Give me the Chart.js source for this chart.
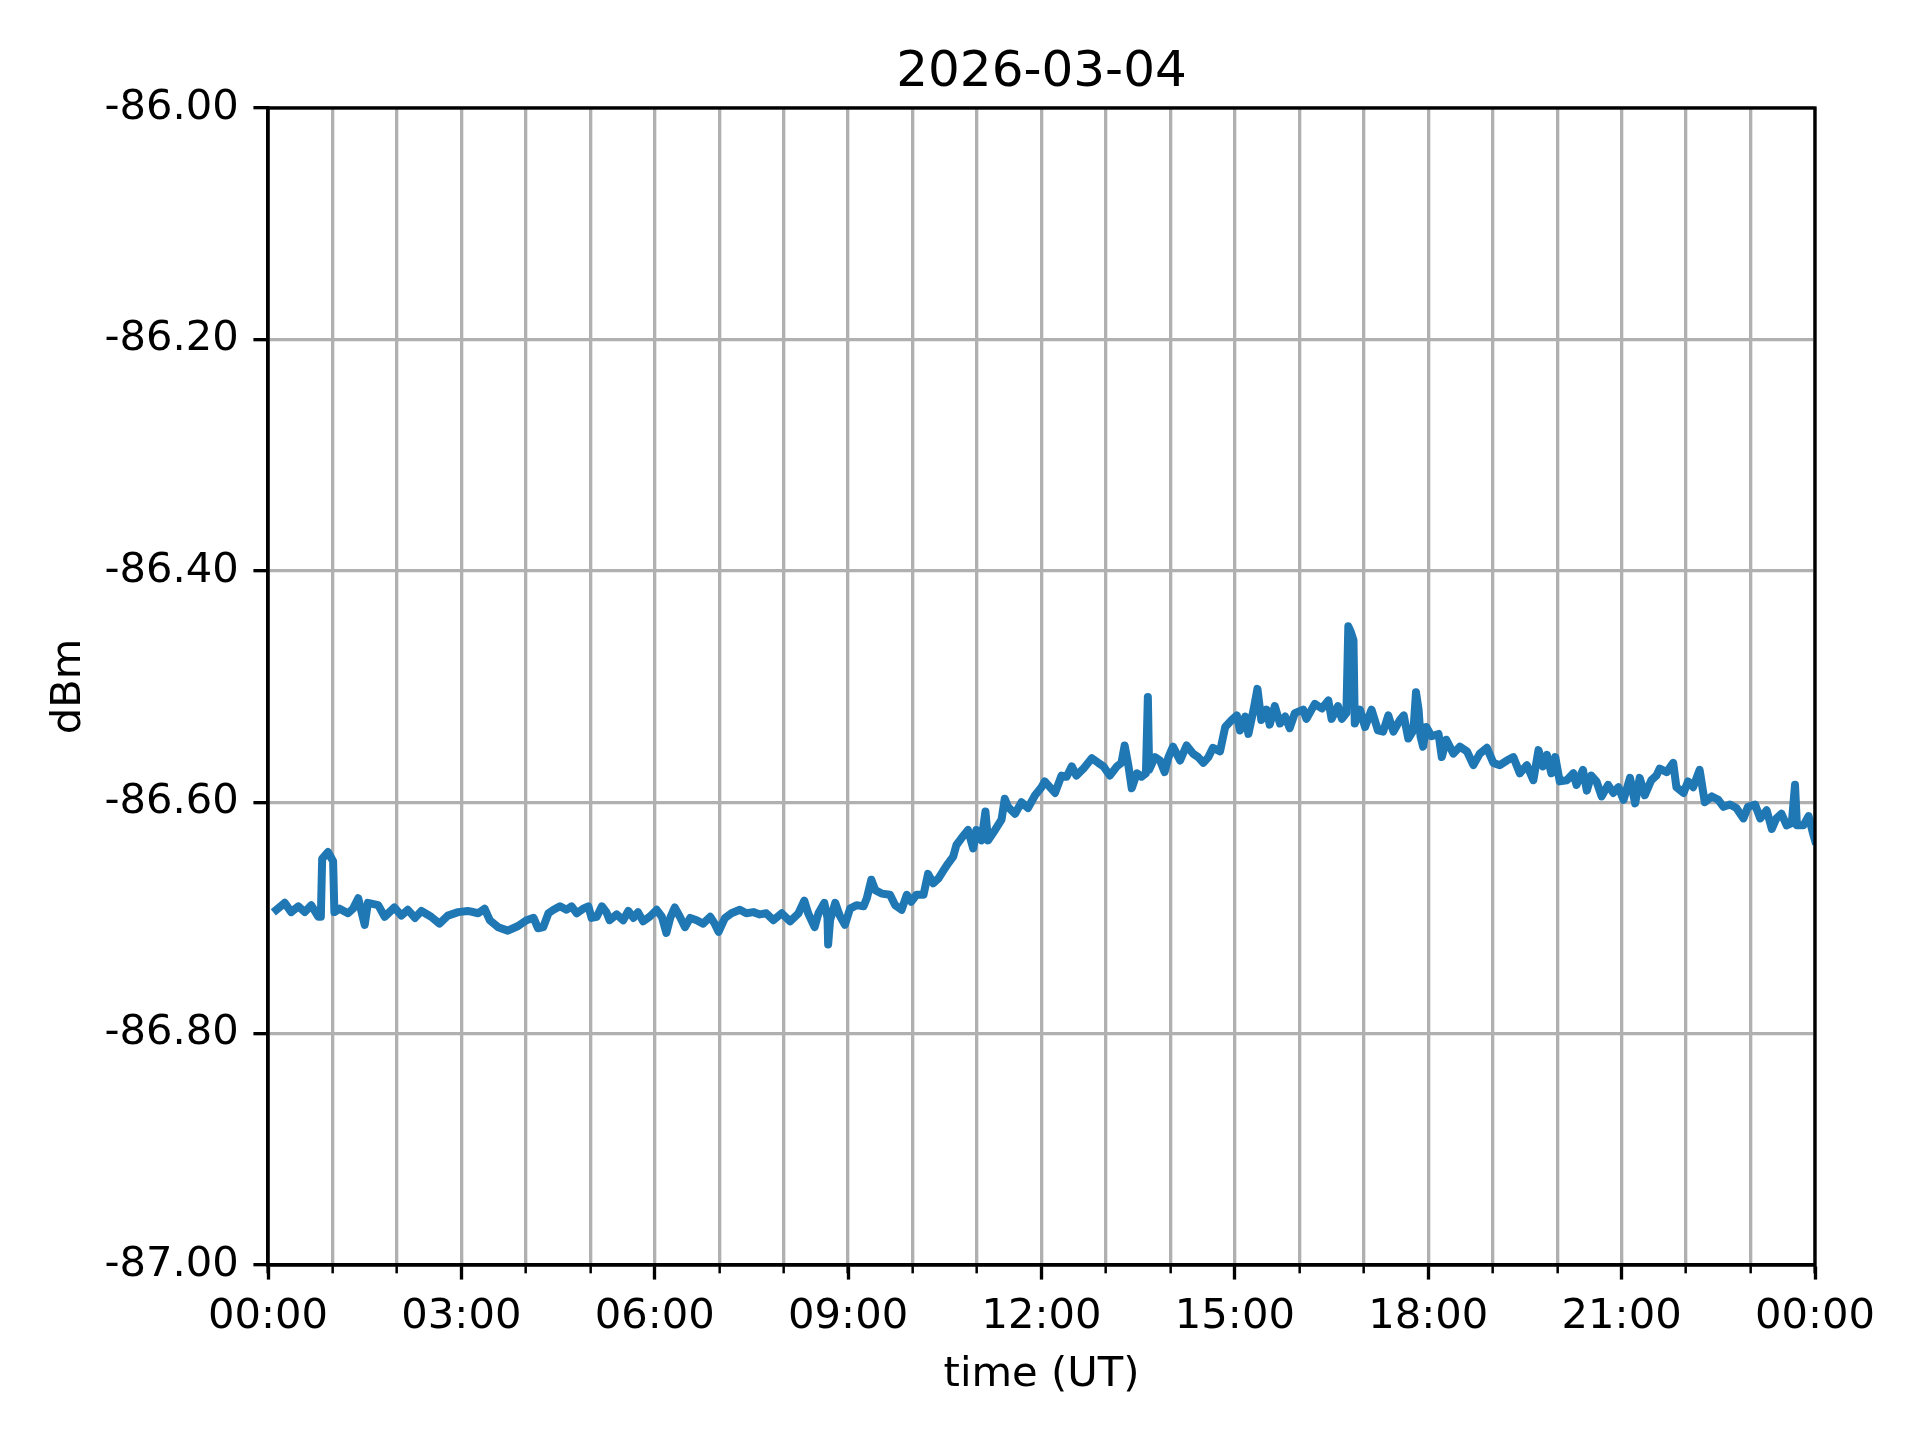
<!DOCTYPE html>
<html>
<head>
<meta charset="utf-8">
<title>2026-03-04</title>
<script src="https://cdn.jsdelivr.net/npm/chart.js"></script>
<style>
  html, body { margin: 0; padding: 0; background: #fff; }
  #wrap { width: 1920px; height: 1440px; }
</style>
</head>
<body>
<div id="wrap"><canvas id="levelChart" width="1920" height="1440"></canvas></div>
<script>
// values, time in hours UT
const chartTitle = "2026-03-04";
const timeHours = [
  0.13, 0.26, 0.36, 0.47, 0.57, 0.67, 0.78, 0.82, 0.84, 0.93, 1.01, 1.03, 1.11, 1.24, 1.32, 1.40, 1.50, 1.55, 1.71, 1.81,
  1.96, 2.07, 2.17, 2.28, 2.38, 2.53, 2.66, 2.79, 2.95, 3.10, 3.26, 3.36, 3.44, 3.57, 3.72, 3.88, 4.01, 4.12, 4.19, 4.27,
  4.35, 4.43, 4.53, 4.63, 4.71, 4.79, 4.89, 4.97, 5.02, 5.10, 5.18, 5.25, 5.30, 5.41, 5.51, 5.59, 5.67, 5.74, 5.82, 5.92,
  6.03, 6.11, 6.18, 6.24, 6.31, 6.39, 6.47, 6.55, 6.65, 6.75, 6.86, 6.93, 6.99, 7.09, 7.19, 7.32, 7.42, 7.53, 7.63, 7.73,
  7.84, 7.97, 8.10, 8.23, 8.32, 8.38, 8.48, 8.54, 8.63, 8.68, 8.69, 8.72, 8.80, 8.87, 8.95, 9.03, 9.13, 9.24, 9.29, 9.36,
  9.42, 9.52, 9.65, 9.73, 9.83, 9.91, 9.98, 10.06, 10.17, 10.24, 10.32, 10.40, 10.48, 10.55, 10.63, 10.68, 10.76, 10.86, 10.94, 10.99,
  11.07, 11.13, 11.17, 11.28, 11.38, 11.43, 11.48, 11.59, 11.69, 11.79, 11.90, 12.00, 12.05, 12.13, 12.21, 12.31, 12.39, 12.47, 12.54, 12.65,
  12.78, 12.88, 12.96, 13.06, 13.17, 13.24, 13.29, 13.35, 13.40, 13.48, 13.55, 13.62, 13.65, 13.67, 13.76, 13.84, 13.91, 13.97, 14.04, 14.15,
  14.25, 14.35, 14.43, 14.51, 14.59, 14.66, 14.77, 14.85, 14.95, 15.03, 15.08, 15.16, 15.21, 15.29, 15.35, 15.41, 15.49, 15.54, 15.62, 15.70,
  15.78, 15.85, 15.93, 16.06, 16.11, 16.24, 16.35, 16.45, 16.50, 16.60, 16.66, 16.73, 16.76, 16.80, 16.84, 16.86, 16.94, 17.02, 17.12, 17.22,
  17.30, 17.38, 17.46, 17.56, 17.62, 17.69, 17.77, 17.81, 17.85, 17.88, 17.92, 17.97, 18.05, 18.16, 18.21, 18.28, 18.39, 18.49, 18.60, 18.70,
  18.80, 18.91, 19.01, 19.11, 19.22, 19.32, 19.42, 19.53, 19.63, 19.71, 19.78, 19.84, 19.91, 19.97, 20.04, 20.15, 20.25, 20.30, 20.40, 20.46,
  20.53, 20.61, 20.69, 20.79, 20.87, 20.95, 21.03, 21.13, 21.21, 21.28, 21.36, 21.46, 21.54, 21.59, 21.70, 21.80, 21.85, 21.96, 22.03, 22.11,
  22.21, 22.29, 22.40, 22.50, 22.58, 22.68, 22.78, 22.89, 22.96, 23.07, 23.15, 23.25, 23.33, 23.40, 23.48, 23.56, 23.64, 23.69, 23.72, 23.82,
  23.90, 23.97, 24.00
];
const levelDbm = [
  -86.693, -86.687, -86.695, -86.690, -86.695, -86.689, -86.699, -86.699, -86.649, -86.643, -86.651, -86.695, -86.692, -86.696, -86.692, -86.683, -86.706, -86.687, -86.689, -86.699,
  -86.691, -86.698, -86.693, -86.700, -86.694, -86.699, -86.705, -86.698, -86.695, -86.694, -86.696, -86.692, -86.702, -86.708, -86.711, -86.707, -86.702, -86.700, -86.709, -86.708,
  -86.696, -86.693, -86.690, -86.693, -86.690, -86.696, -86.692, -86.690, -86.700, -86.699, -86.690, -86.695, -86.702, -86.697, -86.702, -86.694, -86.700, -86.695, -86.703, -86.699,
  -86.693, -86.699, -86.713, -86.700, -86.691, -86.699, -86.708, -86.700, -86.702, -86.705, -86.699, -86.705, -86.712, -86.700, -86.696, -86.693, -86.696, -86.695, -86.697, -86.696,
  -86.702, -86.696, -86.703, -86.696, -86.685, -86.696, -86.708, -86.696, -86.687, -86.700, -86.723, -86.702, -86.687, -86.698, -86.706, -86.692, -86.689, -86.690, -86.683, -86.667,
  -86.676, -86.679, -86.680, -86.689, -86.693, -86.680, -86.686, -86.680, -86.680, -86.662, -86.670, -86.666, -86.659, -86.653, -86.647, -86.637, -86.631, -86.624, -86.640, -86.624,
  -86.633, -86.608, -86.633, -86.624, -86.615, -86.597, -86.604, -86.610, -86.600, -86.605, -86.594, -86.587, -86.582, -86.587, -86.592, -86.577, -86.578, -86.569, -86.577, -86.571,
  -86.562, -86.566, -86.569, -86.577, -86.569, -86.566, -86.551, -86.569, -86.588, -86.575, -86.578, -86.575, -86.509, -86.572, -86.561, -86.564, -86.574, -86.561, -86.552, -86.564,
  -86.551, -86.558, -86.561, -86.566, -86.561, -86.553, -86.556, -86.535, -86.529, -86.525, -86.538, -86.526, -86.541, -86.520, -86.502, -86.529, -86.520, -86.533, -86.517, -86.532,
  -86.526, -86.536, -86.523, -86.520, -86.528, -86.515, -86.519, -86.512, -86.528, -86.517, -86.528, -86.523, -86.448, -86.453, -86.460, -86.532, -86.520, -86.535, -86.520, -86.538,
  -86.539, -86.525, -86.539, -86.529, -86.525, -86.545, -86.538, -86.505, -86.520, -86.543, -86.552, -86.535, -86.543, -86.541, -86.561, -86.546, -86.558, -86.552, -86.556, -86.568,
  -86.558, -86.553, -86.566, -86.568, -86.564, -86.561, -86.575, -86.568, -86.581, -86.555, -86.569, -86.559, -86.575, -86.561, -86.582, -86.581, -86.575, -86.585, -86.572, -86.590,
  -86.577, -86.582, -86.595, -86.585, -86.592, -86.587, -86.598, -86.579, -86.601, -86.579, -86.594, -86.581, -86.577, -86.571, -86.574, -86.566, -86.587, -86.592, -86.582, -86.587,
  -86.572, -86.600, -86.595, -86.598, -86.604, -86.602, -86.605, -86.614, -86.604, -86.602, -86.614, -86.607, -86.623, -86.614, -86.610, -86.620, -86.618, -86.585, -86.620, -86.620,
  -86.612, -86.627, -86.633
];
const xTickLabels = ["00:00", "03:00", "06:00", "09:00", "12:00", "15:00", "18:00", "21:00", "00:00"];
const yMin = -87, yMax = -86, yStep = 0.2;

const PT = 300 / 72; // figure drawn at 300 dpi
Chart.defaults.font.family = "'DejaVu Sans', sans-serif";
Chart.defaults.color = "#000";

// stop chart.js from shrinking the plot for label overhang
function dropOverhang(scale) {
    scale.paddingLeft = 0;
    scale.paddingRight = 0;
    scale.paddingTop = 0;
    scale.paddingBottom = 0;
}

const framePlugin = {
    id: "frame",
    afterDatasetsDraw(chart) {
        const ctx = chart.ctx, a = chart.chartArea;
        ctx.save();
        ctx.strokeStyle = "#000";
        ctx.lineWidth = 0.8 * PT;
        ctx.lineJoin = "miter";
        ctx.strokeRect(a.left, a.top, a.right - a.left, a.bottom - a.top);
        ctx.restore();
    }
};

const axesTitlePlugin = {
    id: "axesTitle",
    afterDraw(chart) {
        const ctx = chart.ctx, a = chart.chartArea;
        ctx.save();
        ctx.font = (12 * PT) + "px 'DejaVu Sans'";
        ctx.fillStyle = "#000";
        ctx.textAlign = "center";
        ctx.textBaseline = "alphabetic";
        ctx.fillText(chartTitle, (a.left + a.right) / 2, a.top - 6 * PT + 3);
        ctx.restore();
    }
};

const points = timeHours.map((t, i) => ({ x: t, y: levelDbm[i] }));

const ctx = document.getElementById("levelChart").getContext("2d");
new Chart(ctx, {
    type: "line",
    data: {
        datasets: [{
            data: points,
            xAxisID: "x",
            yAxisID: "y",
            borderColor: "#1f77b4",
            borderWidth: 8,
            borderJoinStyle: "round",
            borderCapStyle: "square",
            pointRadius: 0,
            tension: 0,
            fill: false
        }]
    },
    options: {
        responsive: false,
        devicePixelRatio: 1,
        animation: false,
        layout: { padding: { top: 108, right: 105, bottom: 0, left: 0 } },
        plugins: {
            legend: { display: false },
            tooltip: { enabled: false },
            title: { display: false }
        },
        scales: {
            // hourly grid and minor ticks
            xMinor: {
                type: "linear",
                axis: "x",
                position: "bottom",
                weight: 0,
                min: 0,
                max: 24,
                ticks: { stepSize: 1, display: false, autoSkip: false },
                grid: {
                    color: "#b0b0b0",
                    lineWidth: 0.8 * PT,
                    tickColor: "#000",
                    tickWidth: 0.6 * PT,
                    tickLength: 2 * PT
                },
                border: { display: false },
                afterFit(scale) { scale.height = 0; dropOverhang(scale); }
            },
            x: {
                type: "linear",
                position: "bottom",
                weight: 1,
                min: 0,
                max: 24,
                ticks: {
                    stepSize: 3,
                    autoSkip: false,
                    maxRotation: 0,
                    padding: 13,
                    color: "#000",
                    font: { size: 10 * PT },
                    callback: v => xTickLabels[Math.round(v / 3)]
                },
                grid: {
                    drawOnChartArea: false,
                    tickColor: "#000",
                    tickWidth: 0.8 * PT,
                    tickLength: 3.5 * PT
                },
                border: { display: true, color: "#000", width: 0.8 * PT },
                title: {
                    display: true,
                    text: "time (UT)",
                    color: "#000",
                    font: { size: 10 * PT },
                    padding: { top: 0, bottom: 40 }
                },
                afterFit(scale) { scale.height = 175; dropOverhang(scale); }
            },
            y: {
                type: "linear",
                position: "left",
                min: yMin,
                max: yMax,
                ticks: {
                    stepSize: yStep,
                    padding: 3.5 * PT,
                    color: "#000",
                    font: { size: 10 * PT },
                    callback: v => Number(v).toFixed(2)
                },
                grid: {
                    color: "#b0b0b0",
                    lineWidth: 0.8 * PT,
                    tickColor: "#000",
                    tickWidth: 0.8 * PT,
                    tickLength: 3.5 * PT
                },
                border: { display: true, color: "#000", width: 0.8 * PT },
                title: {
                    display: true,
                    text: "dBm",
                    color: "#000",
                    font: { size: 10 * PT },
                    padding: { top: 44, bottom: 0 }
                },
                afterFit(scale) { scale.width = 268; dropOverhang(scale); }
            }
        }
    },
    plugins: [framePlugin, axesTitlePlugin]
});
</script>
</body>
</html>
